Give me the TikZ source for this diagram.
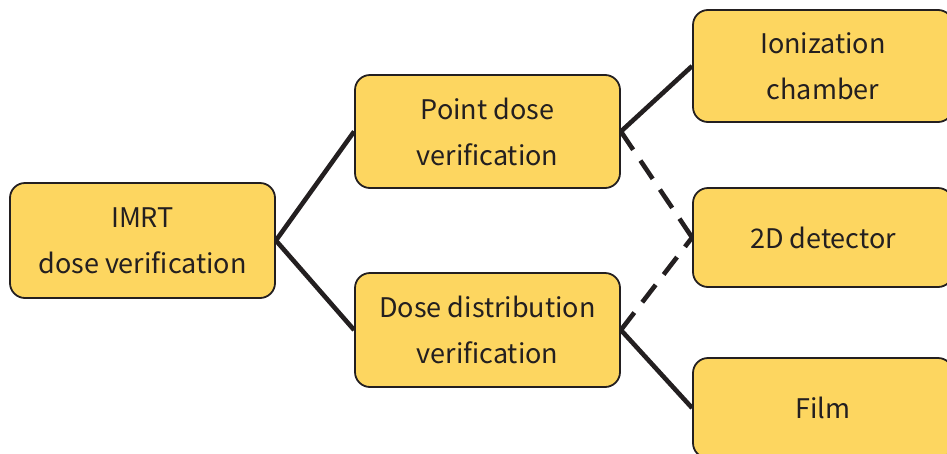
\documentclass[tikz,border=0pt]{standalone}
\usepackage{fontspec}
\setmainfont{Noto Sans CJK JP}
\definecolor{boxfill}{HTML}{FDD660}
\definecolor{ink}{HTML}{231F20}
\begin{document}
\begin{tikzpicture}[x=1pt,y=-1pt,
  box/.style={draw=ink, fill=boxfill, line width=1.8pt, rounded corners=15pt,
    align=center, text=ink, inner sep=0pt,
    font=\fontsize{27}{46}\selectfont},
  link/.style={draw=ink, line width=4.6pt},
  maybe/.style={link, dash pattern=on 22pt off 13pt}]
\useasboundingbox (0,0) rectangle (947,453);
\clip (0,0) rectangle (947,453);
% root
\node[box, minimum width=265pt, minimum height=115pt] (imrt) at (142.5,240.5) {IMRT\\dose verification};
% middle column
\node[box, minimum width=265pt, minimum height=113pt] (point) at (487.5,131.5) {Point dose\\verification};
\node[box, minimum width=265pt, minimum height=114pt] (dist) at (487.5,330) {Dose distribution\\verification};
% right column (runs past the right edge)
\node[box, minimum width=260pt, minimum height=112pt] (ion) at (823,66) {Ionization\\chamber};
\node[box, minimum width=260pt, minimum height=99pt] (det) at (823,237.5) {2D detector};
\node[box, minimum width=260pt, minimum height=100pt] (film) at (823,408) {Film};
% connectors
\draw[link] (imrt.east) -- (point.west);
\draw[link] (imrt.east) -- (dist.west);
\draw[link] (point.east) -- (ion.west);
\draw[maybe] (point.east) -- (det.west);
\draw[maybe] (dist.east) -- (det.west);
\draw[link] (dist.east) -- (film.west);
\end{tikzpicture}
\end{document}
